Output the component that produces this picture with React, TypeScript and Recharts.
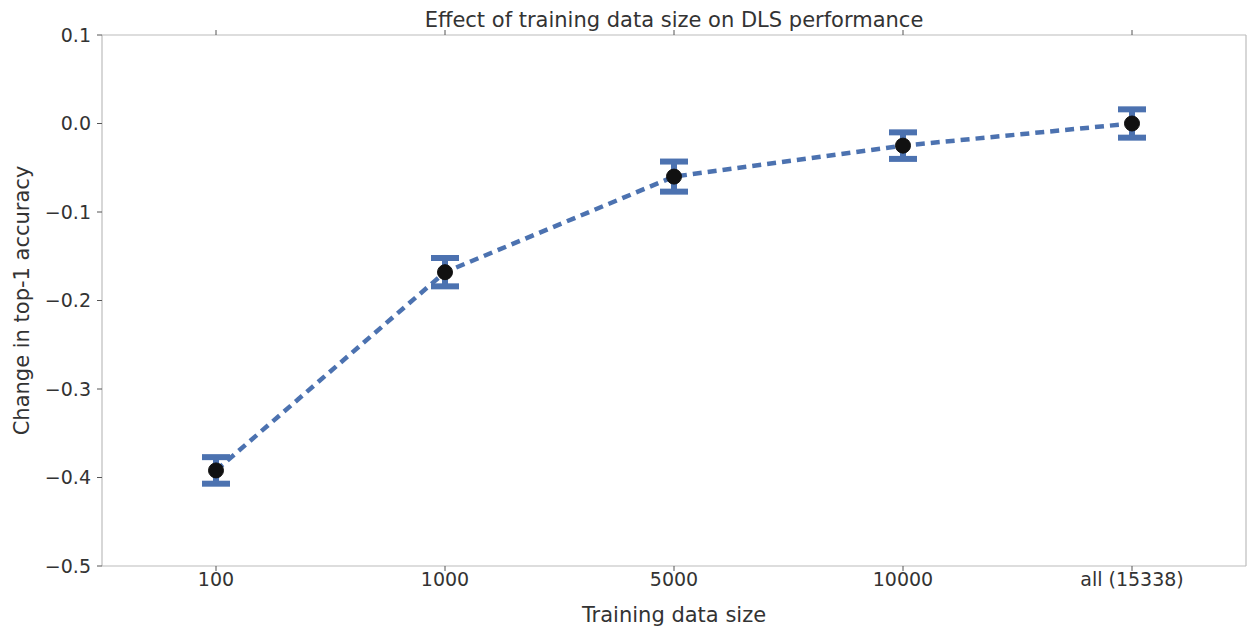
import React from 'react';
import { LineChart, Line, XAxis, YAxis, ErrorBar } from 'recharts';

const sizes = ['100', '1000', '5000', '10000', 'all (15338)'];
const accuracyChange = [-0.392, -0.168, -0.06, -0.025, 0.0];
const accuracyErr = [0.015, 0.016, 0.017, 0.015, 0.016];
const yTicks = [-0.5, -0.4, -0.3, -0.2, -0.1, 0.0, 0.1];

const data = sizes.map((size, i) => ({ size, value: accuracyChange[i], err: accuracyErr[i] }));

const BLUE = '#4c72b0';
const TEXT = '#333333';
const AXIS = '#bcbcbc';
const TICK = '#555555';
const FONT = 'DejaVu Sans, sans-serif';

const fmt = (v: number) => v.toFixed(1).replace('-', '\u2212');
const noLabel = () => <g />;

export default function App() {
  return (
    <div style={{ position: 'absolute', left: 0, top: 0, width: 1252, height: 630, background: '#fff', fontFamily: FONT }}>
      <div
        style={{
          position: 'absolute',
          left: 102,
          width: 1144,
          top: 7,
          textAlign: 'center',
          fontSize: 21,
          lineHeight: '26px',
          color: TEXT,
        }}
      >
        Effect of training data size on DLS performance
      </div>
      <LineChart width={1252} height={630} data={data} margin={{ top: 0, right: 0, bottom: 0, left: 0 }}>
        <XAxis
          dataKey="size"
          height={64}
          padding={{ left: 114, right: 114 }}
          axisLine={{ stroke: AXIS, strokeWidth: 1.2 }}
          tickLine={{ stroke: TICK }}
          tickSize={5}
          tick={{ fill: TEXT, fontSize: 19, fontFamily: FONT }}
          label={{ value: 'Training data size', position: 'insideBottom', offset: 8, fill: TEXT, fontSize: 21, fontFamily: FONT }}
        />
        <XAxis
          xAxisId="top"
          orientation="top"
          dataKey="size"
          height={35}
          padding={{ left: 114, right: 114 }}
          axisLine={{ stroke: AXIS, strokeWidth: 1.2 }}
          tickLine={{ stroke: TICK }}
          tickSize={5}
          tick={noLabel}
        />
        <YAxis
          width={102}
          domain={[-0.5, 0.1]}
          ticks={yTicks}
          tickFormatter={fmt}
          axisLine={{ stroke: AXIS, strokeWidth: 1.2 }}
          tickLine={{ stroke: TICK }}
          tickSize={5}
          tickMargin={6}
          tick={{ fill: TEXT, fontSize: 19, fontFamily: FONT }}
          label={{ value: 'Change in top-1 accuracy', angle: -90, position: 'insideLeft', offset: 22, fill: TEXT, fontSize: 21, fontFamily: FONT, style: { textAnchor: 'middle' } }}
        />
        <YAxis
          yAxisId="right"
          orientation="right"
          width={6}
          domain={[-0.5, 0.1]}
          ticks={yTicks}
          axisLine={{ stroke: AXIS, strokeWidth: 1.2 }}
          tickLine={{ stroke: TICK }}
          tickSize={5}
          tick={noLabel}
        />
        <Line
          dataKey="value"
          stroke={BLUE}
          strokeWidth={4.5}
          strokeDasharray="9 6"
          isAnimationActive={false}
          dot={{ r: 7.5, fill: '#111', stroke: '#111', strokeWidth: 1, strokeDasharray: '' }}
        >
          <ErrorBar dataKey="err" direction="y" width={14} stroke={BLUE} strokeWidth={6} isAnimationActive={false} />
        </Line>
      </LineChart>
    </div>
  );
}
